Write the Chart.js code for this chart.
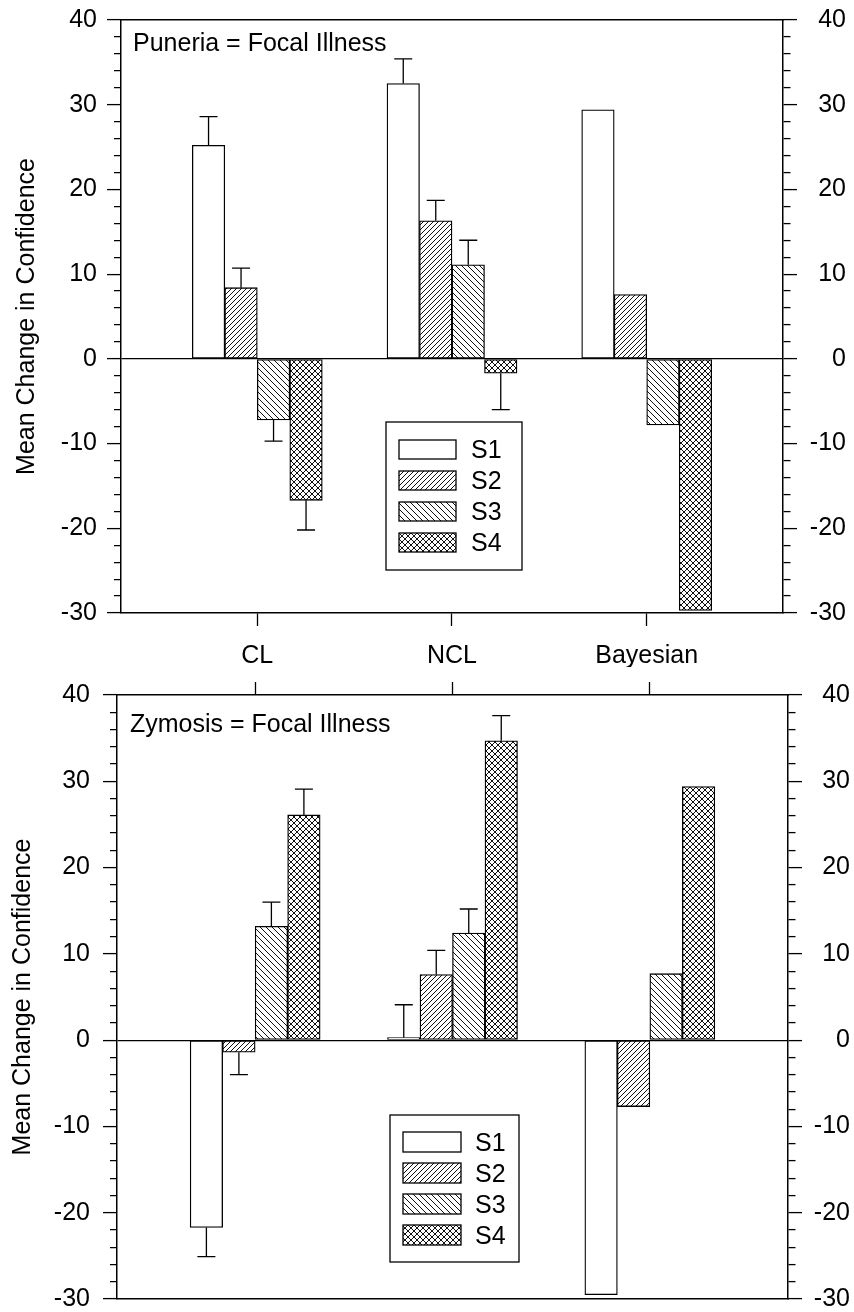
<!DOCTYPE html>
<html>
<head>
<meta charset="utf-8">
<script src="https://cdn.jsdelivr.net/npm/chart.js@4.4.1/dist/chart.umd.min.js"></script>
<style>
  html, body { margin: 0; padding: 0; background: #fff; }
  #wrap { position: relative; width: 854px; height: 1312px; overflow: hidden; }
  canvas { position: absolute; left: 0; }
  #chart_top { top: -10px; }
  #chart_bottom { top: 667px; }
</style>
</head>
<body>
<div id="wrap">
  <canvas id="chart_top" width="854" height="677"></canvas>
  <canvas id="chart_bottom" width="854" height="660"></canvas>
</div>
<script>
var categories = ['CL', 'NCL', 'Bayesian'];
var seriesLabels = ['S1', 'S2', 'S3', 'S4'];
var yLabelTicks = [-30, -20, -10, 0, 10, 20, 30, 40];

// Puneria = Focal Illness
var punS1 = [25.2, 32.5, 29.4];
var punS2 = [8.4, 16.3, 7.6];
var punS3 = [-7.2, 11.1, -7.8];
var punS4 = [-16.7, -1.7, -29.7];
var punErrS1 = [3.4, 2.9, null];
var punErrS2 = [2.3, 2.4, null];
var punErrS3 = [2.5, 2.9, null];
var punErrS4 = [3.5, 4.3, null];

// Zymosis = Focal Illness
var zymS1 = [-21.7, 0.3, -29.5];
var zymS2 = [-1.4, 7.6, -7.7];
var zymS3 = [13.2, 12.4, 7.7];
var zymS4 = [26.1, 34.7, 29.4];
var zymErrS1 = [3.4, 3.8, null];
var zymErrS2 = [2.6, 2.8, null];
var zymErrS3 = [2.8, 2.8, null];
var zymErrS4 = [3.0, 2.9, null];

var FONT = '"Liberation Sans", Arial, Helvetica, sans-serif';
Chart.defaults.font.family = FONT;
Chart.defaults.color = '#000';

// hatch fills
function hatch(kind, size) {
  var c = document.createElement('canvas');
  c.width = size; c.height = size;
  var g = c.getContext('2d');
  g.fillStyle = '#fff';
  g.fillRect(0, 0, size, size);
  g.strokeStyle = '#111';
  g.lineWidth = 1;
  g.beginPath();
  for (var k = -1; k <= 1; k++) {
    if (kind === 'up' || kind === 'cross') {
      g.moveTo(k * size, size); g.lineTo(k * size + size, 0);
    }
    if (kind === 'down' || kind === 'cross') {
      g.moveTo(k * size, 0); g.lineTo(k * size + size, size);
    }
  }
  g.stroke();
  return g.createPattern(c, 'repeat');
}
var fills = ['#fff', hatch('up', 5), hatch('down', 6), hatch('cross', 6)];

function isMajor(v) { return yLabelTicks.indexOf(v) >= 0; }

function toPoints(values) {
  return values.map(function (v, i) { return {x: i + 1, y: v}; });
}

function makeDatasets(values, errors) {
  return values.map(function (vals, k) {
    return {
      label: seriesLabels[k],
      data: toPoints(vals),
      errors: errors[k],
      backgroundColor: fills[k],
      borderColor: '#000',
      borderWidth: 1.3,
      borderSkipped: false,
      barThickness: 32.5
    };
  });
}

function catTicks(scale) {
  scale.ticks = categories.map(function (c, i) { return {value: i + 1}; });
}

var errorBars = {
  id: 'errorBars',
  afterDatasetsDraw: function (chart) {
    var ctx = chart.ctx, ys = chart.scales.y;
    ctx.save();
    ctx.strokeStyle = '#000';
    ctx.lineWidth = 1.3;
    chart.data.datasets.forEach(function (ds, di) {
      var meta = chart.getDatasetMeta(di);
      ds.errors.forEach(function (e, i) {
        if (e == null) return;
        var v = ds.data[i].y;
        var tip = v >= 0 ? v + e : v - e;
        var x = meta.data[i].x;
        var y0 = ys.getPixelForValue(v), y1 = ys.getPixelForValue(tip);
        ctx.beginPath();
        ctx.moveTo(x, y0); ctx.lineTo(x, y1);
        ctx.moveTo(x - 9, y1); ctx.lineTo(x + 9, y1);
        ctx.stroke();
      });
    });
    ctx.restore();
  }
};

var panelTitle = {
  id: 'panelTitle',
  afterDraw: function (chart, args, o) {
    var ctx = chart.ctx, a = chart.chartArea;
    ctx.save();
    ctx.font = '25px ' + FONT;
    ctx.fillStyle = '#000';
    ctx.textBaseline = 'alphabetic';
    ctx.fillText(o.text, a.left + o.dx, a.top + o.dy);
    ctx.restore();
  }
};

var boxLegend = {
  id: 'boxLegend',
  afterDraw: function (chart, args, o) {
    var ctx = chart.ctx, a = chart.chartArea;
    var bx = a.left + o.left, by = a.top + o.top;
    ctx.save();
    ctx.fillStyle = '#fff';
    ctx.fillRect(bx, by, o.width, o.height);
    ctx.lineWidth = 1.3;
    ctx.strokeStyle = '#000';
    ctx.strokeRect(bx, by, o.width, o.height);
    ctx.font = '25px ' + FONT;
    ctx.textBaseline = 'middle';
    chart.data.datasets.forEach(function (ds, k) {
      var sx = bx + o.padLeft, sy = by + o.padTop + k * o.rowStep;
      ctx.fillStyle = ds.backgroundColor;
      ctx.fillRect(sx, sy, o.swatchW, o.swatchH);
      ctx.strokeRect(sx, sy, o.swatchW, o.swatchH);
      ctx.fillStyle = '#000';
      ctx.fillText(ds.label, sx + o.swatchW + o.gap, sy + o.swatchH / 2 + 2);
    });
    ctx.restore();
  }
};

function yAxis(side, p) {
  var left = side === 'left';
  return {
    type: 'linear',
    position: side,
    min: -30,
    max: 40,
    afterFit: function (s) { s.width = left ? p.leftWidth : p.rightWidth; },
    ticks: {
      stepSize: 2,
      autoSkip: false,
      font: {size: 25},
      padding: left ? p.leftPad : 12,
      crossAlign: left ? 'near' : 'far',
      callback: function (v) { return isMajor(v) ? String(v) : ''; }
    },
    title: left ? {
      display: true,
      text: 'Mean Change in Confidence',
      font: {size: 25},
      padding: {top: p.titlePad, bottom: 0}
    } : {display: false},
    grid: {
      drawOnChartArea: left,
      color: function (c) { return c.tick && c.tick.value === 0 ? '#000' : 'rgba(0,0,0,0)'; },
      lineWidth: 1.2,
      tickLength: 14,
      tickColor: '#000',
      tickWidth: 1.3,
      tickBorderDash: function (c) {
        if (c.tick && isMajor(c.tick.value)) return [];
        return left ? [0, 7, 100] : [7, 100];
      }
    },
    border: {color: '#000', width: 1.5}
  };
}

function xAxis(position, withTicks, withLabels, height) {
  var ax = {
    type: 'linear',
    position: position,
    min: 0.3,
    max: 3.7,
    offset: false,
    afterBuildTicks: catTicks,
    ticks: {
      display: withLabels,
      autoSkip: false,
      maxRotation: 0,
      font: {size: 25},
      padding: 15,
      callback: function (v) { return categories[v - 1]; }
    },
    grid: {
      offset: false,
      drawOnChartArea: false,
      drawTicks: withTicks,
      tickLength: 13,
      tickColor: '#000',
      tickWidth: 1.3
    },
    border: {color: '#000', width: 1.5}
  };
  if (height != null) ax.afterFit = function (s) { s.height = height; };
  return ax;
}

function buildChart(id, values, errors, p) {
  var ctx = document.getElementById(id).getContext('2d');
  var scales = {
    y: yAxis('left', p),
    y2: yAxis('right', p)
  };
  if (p.labelsOnBottom) {
    scales.x = xAxis('bottom', true, true, p.xHeight);
    scales.xt = xAxis('top', false, false);
  } else {
    scales.x = xAxis('top', true, false);
    scales.xb = xAxis('bottom', false, false);
  }
  return new Chart(ctx, {
    type: 'bar',
    data: {datasets: makeDatasets(values, errors)},
    options: {
      responsive: false,
      animation: false,
      devicePixelRatio: 1,
      layout: {padding: p.padding},
      scales: scales,
      plugins: {
        legend: {display: false},
        tooltip: {enabled: false},
        panelTitle: p.title,
        boxLegend: p.legend
      }
    },
    plugins: [errorBars, panelTitle, boxLegend]
  });
}

buildChart('chart_top',
  [punS1, punS2, punS3, punS4],
  [punErrS1, punErrS2, punErrS3, punErrS4],
  {
    labelsOnBottom: true,
    xHeight: 54,
    padding: {top: 30, left: 0, right: 8, bottom: 0},
    leftWidth: 121, rightWidth: 63, leftPad: 10, titlePad: 12,
    title: {text: 'Puneria = Focal Illness', dx: 12, dy: 31},
    legend: {left: 265, top: 402, width: 136, height: 148, padLeft: 13, padTop: 18,
             swatchW: 57, swatchH: 19, rowStep: 31, gap: 15}
  });

buildChart('chart_bottom',
  [zymS1, zymS2, zymS3, zymS4],
  [zymErrS1, zymErrS2, zymErrS3, zymErrS4],
  {
    labelsOnBottom: false,
    padding: {top: 15, left: 0, right: 4, bottom: 28},
    leftWidth: 117, rightWidth: 62, leftPad: 13, titlePad: 8,
    title: {text: 'Zymosis = Focal Illness', dx: 13, dy: 37},
    legend: {left: 273, top: 420, width: 129, height: 147, padLeft: 13, padTop: 17,
             swatchW: 58, swatchH: 20, rowStep: 31, gap: 14}
  });
</script>
</body>
</html>
